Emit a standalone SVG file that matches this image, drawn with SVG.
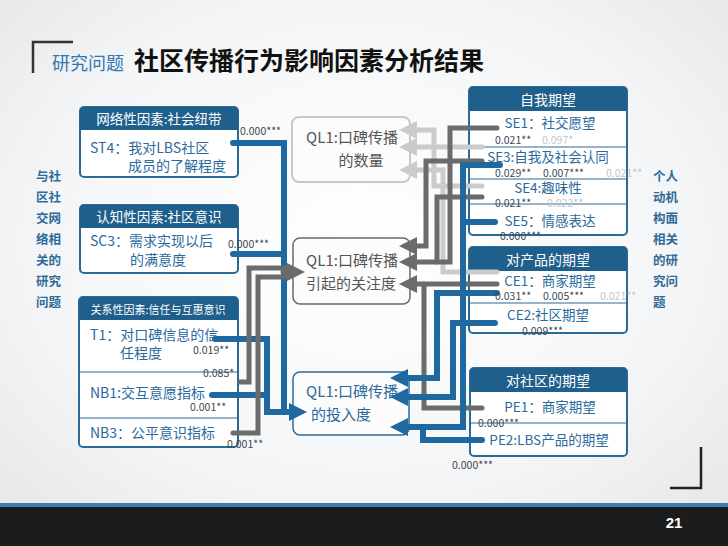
<svg xmlns="http://www.w3.org/2000/svg" width="728" height="546" viewBox="0 0 728 546">
<defs>
<radialGradient id="bg" cx="50%" cy="45%" r="75%">
<stop offset="0" stop-color="#ffffff"/>
<stop offset="0.6" stop-color="#f4f5f6"/>
<stop offset="1" stop-color="#e2e4e6"/>
</radialGradient>
<marker id="aL" markerUnits="userSpaceOnUse" markerWidth="18" markerHeight="18" viewBox="0 0 18 18" refX="0" refY="9" orient="auto"><path d="M0,0 L18,9 L0,18 Z" fill="#cbcbcb"/></marker>
<marker id="aD" markerUnits="userSpaceOnUse" markerWidth="18" markerHeight="18" viewBox="0 0 18 18" refX="0" refY="9" orient="auto"><path d="M0,0 L18,9 L0,18 Z" fill="#6b6b6b"/></marker>
<marker id="aB" markerUnits="userSpaceOnUse" markerWidth="18" markerHeight="18" viewBox="0 0 18 18" refX="0" refY="9" orient="auto"><path d="M0,0 L18,9 L0,18 Z" fill="#1f69a0"/></marker>
</defs>
<style>
text{font-family:'Noto Sans CJK SC','Noto Sans',sans-serif}
.box{fill:#ffffff;stroke:#2a6a98;stroke-width:2}
.hd{fill:#1f5f8b}
.div{stroke:#2a6a98;stroke-width:1.2}
.ht{fill:#ffffff;font-size:13.5px}
.bt{fill:#2c6a9c;font-size:14px}
.rt{fill:#2c6a9c;font-size:13.5px}
.v{fill:#3d4853;font-size:10.5px}
.vl{fill:#c3c6ca;font-size:10.5px}
.side{fill:#2f6b99;font-size:12.5px;font-weight:bold}
.c{fill:none;stroke-linecap:round;stroke-linejoin:miter}
.lg{stroke:#cbcbcb;stroke-width:5}
.dg{stroke:#6b6b6b;stroke-width:5}
.bl{stroke:#1f69a0;stroke-width:6}
.ql{fill:#555555;font-size:15px}
</style>
<rect x="0" y="0" width="728" height="546" fill="url(#bg)"/>
<rect x="0" y="503" width="728" height="4" fill="#3d7eb0"/>
<rect x="0" y="507" width="728" height="39" fill="#1c1c1c"/>
<text x="674" y="528" text-anchor="middle" style="fill:#ffffff;font-size:15px;font-weight:bold;font-family:'Liberation Sans',sans-serif">21</text>
<path d="M33,73 V42 H73" fill="none" stroke="#333" stroke-width="2.5"/>
<path d="M701,447 V488 H670" fill="none" stroke="#222" stroke-width="2.5"/>
<text x="52" y="70" style="fill:#2f77b3;font-size:18px">研究问题</text>
<text x="134" y="70" style="fill:#111;font-size:25px;font-weight:bold">社区传播行为影响因素分析结果</text>

<g id="side-left">
<text x="36" y="181" class="side">与社</text>
<text x="36" y="202" class="side">区社</text>
<text x="36" y="223" class="side">交网</text>
<text x="36" y="244" class="side">络相</text>
<text x="36" y="265" class="side">关的</text>
<text x="36" y="286" class="side">研究</text>
<text x="36" y="307" class="side">问题</text>
</g>
<g id="side-right">
<text x="653" y="181" class="side">个人</text>
<text x="653" y="202" class="side">动机</text>
<text x="653" y="223" class="side">构面</text>
<text x="653" y="244" class="side">相关</text>
<text x="653" y="265" class="side">的研</text>
<text x="653" y="286" class="side">究问</text>
<text x="653" y="307" class="side">题</text>
</g>

<g id="box-social-tie">
<rect x="80" y="107" width="158" height="70" rx="4" class="box"/>
<path d="M80,130 V111 Q80,107 84,107 H234 Q238,107 238,111 V130 Z" class="hd"/>
<text x="159" y="124" text-anchor="middle" class="ht">网络性因素:社会纽带</text>
<text x="90" y="153" class="bt">ST4：我对LBS社区</text>
<text x="128" y="171" class="bt">成员的了解程度</text>
</g>
<g id="box-community">
<rect x="80" y="205" width="158" height="68" rx="4" class="box"/>
<path d="M80,228 V209 Q80,205 84,205 H234 Q238,205 238,209 V228 Z" class="hd"/>
<text x="159" y="222" text-anchor="middle" class="ht">认知性因素:社区意识</text>
<text x="90" y="246" class="bt">SC3：需求实现以后</text>
<text x="130" y="265" class="bt">的满意度</text>
</g>
<g id="box-trust">
<rect x="79" y="297" width="159" height="150" rx="4" class="box"/>
<path d="M79,320 V301 Q79,297 83,297 H234 Q238,297 238,301 V320 Z" class="hd"/>
<text x="158" y="314" text-anchor="middle" class="ht" style="font-size:11px">关系性因素:信任与互惠意识</text>
<text x="90" y="340" class="bt">T1：对口碑信息的信</text>
<text x="120" y="358" class="bt">任程度</text>
<line x1="79" y1="372" x2="238" y2="372" class="div"/>
<text x="90" y="398" class="bt">NB1:交互意愿指标</text>
<line x1="79" y1="418" x2="238" y2="418" class="div"/>
<text x="90" y="438" class="bt">NB3：公平意识指标</text>
</g>

<g id="ql-quantity">
<rect x="292" y="117" width="118" height="65" rx="7" fill="#fcfcfc" stroke="#c8c8c8" stroke-width="2"/>
<text x="352" y="143" text-anchor="middle" class="ql">QL1:口碑传播</text>
<text x="361" y="166" text-anchor="middle" class="ql">的数量</text>
</g>
<g id="ql-attention">
<rect x="293" y="238" width="117" height="66" rx="7" fill="#fcfcfc" stroke="#6a6a6a" stroke-width="1.5"/>
<text x="352" y="266" text-anchor="middle" class="ql">QL1:口碑传播</text>
<text x="351" y="289" text-anchor="middle" class="ql">引起的关注度</text>
</g>
<g id="ql-engagement">
<rect x="293" y="372" width="116" height="63" rx="7" fill="#fcfcfc" stroke="#2a6a98" stroke-width="1.5"/>
<text x="352" y="397" text-anchor="middle" class="ql" style="fill:#2c6a9c">QL1:口碑传播</text>
<text x="341" y="420" text-anchor="middle" class="ql" style="fill:#2c6a9c">的投入度</text>
</g>

<g id="box-self">
<rect x="469" y="87" width="158" height="148" rx="4" class="box"/>
<path d="M469,111 V91 Q469,87 473,87 H623 Q627,87 627,91 V111 Z" class="hd"/>
<text x="548" y="105" text-anchor="middle" class="ht" style="font-size:14px">自我期望</text>
<text x="550" y="128" text-anchor="middle" class="rt">SE1：社交愿望</text>
<line x1="469" y1="147" x2="627" y2="147" class="div"/>
<text x="548" y="162" text-anchor="middle" class="rt">SE3:自我及社会认同</text>
<line x1="469" y1="179" x2="627" y2="179" class="div"/>
<text x="548" y="193" text-anchor="middle" class="rt">SE4:趣味性</text>
<line x1="469" y1="204" x2="627" y2="204" class="div"/>
<text x="550" y="226" text-anchor="middle" class="rt">SE5：情感表达</text>
</g>
<g id="box-product">
<rect x="469" y="247" width="158" height="86" rx="4" class="box"/>
<path d="M469,271 V251 Q469,247 473,247 H623 Q627,247 627,251 V271 Z" class="hd"/>
<text x="548" y="265" text-anchor="middle" class="ht" style="font-size:14px">对产品的期望</text>
<text x="550" y="286" text-anchor="middle" class="rt">CE1：商家期望</text>
<line x1="469" y1="303" x2="627" y2="303" class="div"/>
<text x="548" y="320" text-anchor="middle" class="rt">CE2:社区期望</text>
</g>
<g id="box-community-exp">
<rect x="470" y="368" width="157" height="88" rx="4" class="box"/>
<path d="M470,392 V372 Q470,368 474,368 H623 Q627,368 627,372 V392 Z" class="hd"/>
<text x="548" y="386" text-anchor="middle" class="ht" style="font-size:14px">对社区的期望</text>
<text x="550" y="412" text-anchor="middle" class="rt">PE1：商家期望</text>
<line x1="470" y1="423" x2="627" y2="423" class="div"/>
<text x="549" y="445" text-anchor="middle" class="rt">PE2:LBS产品的期望</text>
</g>

<g id="connectors">
<path d="M482,147 H417" class="c lg" marker-end="url(#aL)"/>
<path d="M482,186 H434 V130 H417" class="c lg" marker-end="url(#aL)"/>
<path d="M497,272 H443 V170 H417" class="c lg" marker-end="url(#aL)"/>
<path d="M497,128 H450 V262 H417" class="c dg" marker-end="url(#aD)"/>
<path d="M482,161 H426 V246 H417" class="c dg" marker-end="url(#aD)"/>
<path d="M482,197 H437 V262" class="c dg"/>
<path d="M497,284 H417" class="c dg" marker-end="url(#aD)"/>
<path d="M482,408 H424 V284" class="c dg"/>
<path d="M497,293 H437 V378 H408" class="c bl" marker-end="url(#aB)"/>
<path d="M495,323 H453 V397 H408" class="c bl" marker-end="url(#aB)"/>
<path d="M500,165 H463 V427 H408" class="c bl" marker-end="url(#aB)"/>
<path d="M495,222 H463" class="c bl"/>
<path d="M482,440 H423 V427" class="c bl"/>
<path d="M233,143 H284 V412 H289" class="c bl" marker-end="url(#aB)"/>
<path d="M233,254 H284" class="c bl"/>
<path d="M215,339 H267 V412 H289" class="c bl"/>
<path d="M212,395 H267" class="c bl"/>
<path d="M240,382 H249 V268 H285" class="c dg"/>
<path d="M233,433 H258 V277 H285" class="c dg"/>
<path d="M283,272 H287" class="c dg" marker-end="url(#aD)"/>
</g>

<g id="values">
<text x="240" y="135" class="v">0.000***</text>
<text x="228" y="248" class="v">0.000***</text>
<text x="193" y="354" class="v">0.019**</text>
<text x="203" y="377" class="v">0.085*</text>
<text x="190" y="411" class="v">0.001**</text>
<text x="227" y="448" class="v">0.001**</text>
<text x="495" y="144" class="v">0.021**</text>
<text x="542" y="144" class="vl">0.097*</text>
<text x="495" y="177" class="v">0.029**</text>
<text x="543" y="177" class="v">0.007***</text>
<text x="606" y="177" class="vl">0.021**</text>
<text x="495" y="207" class="v">0.021**</text>
<text x="547" y="207" class="vl">0.022**</text>
<text x="500" y="240" class="v">0.000***</text>
<text x="495" y="300" class="v">0.031**</text>
<text x="543" y="300" class="v">0.005***</text>
<text x="600" y="300" class="vl">0.021**</text>
<text x="522" y="335" class="v">0.009***</text>
<text x="478" y="427" class="v">0.000***</text>
<text x="452" y="469" class="v">0.000***</text>
</g>
</svg>
